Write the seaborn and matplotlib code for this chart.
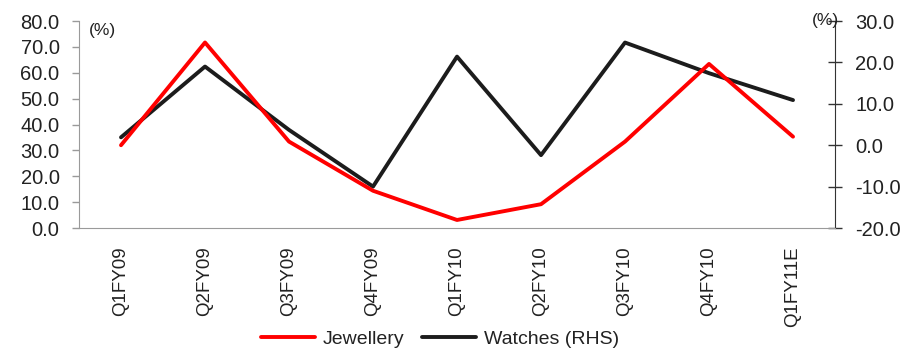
import numpy as np
import pandas as pd
import matplotlib
matplotlib.use("Agg")
import matplotlib.pyplot as plt
import seaborn as sns

quarters = ["Q1FY09", "Q2FY09", "Q3FY09", "Q4FY09", "Q1FY10",
            "Q2FY10", "Q3FY10", "Q4FY10", "Q1FY11E"]
jewellery = [32.0, 71.7, 33.4, 14.4, 3.1, 9.2, 33.4, 63.4, 35.3]
watches = [1.9, 19.0, 3.7, -10.0, 21.4, -2.4, 24.8, 17.4, 10.9]

left_ticks = [0, 10, 20, 30, 40, 50, 60, 70, 80]
right_ticks = [-20, -10, 0, 10, 20, 30]

sns.set_style("white")
plt.rcParams["font.family"] = ["Liberation Sans", "DejaVu Sans"]

df = pd.DataFrame({"pos": np.arange(len(quarters)),
                   "Jewellery": jewellery,
                   "Watches (RHS)": watches})

fig = plt.figure(figsize=(9.04, 3.49), dpi=100)
ax = fig.add_axes([0.0874, 0.3467, 0.8363, 0.5931])
ax2 = ax.twinx()

sns.lineplot(data=df, x="pos", y="Jewellery", ax=ax, color="#ff0000",
             linewidth=2.8, label="Jewellery", legend=False)
sns.lineplot(data=df, x="pos", y="Watches (RHS)", ax=ax2, color="#1c1c1c",
             linewidth=2.8, label="Watches (RHS)", legend=False)
ax2.set_zorder(ax.get_zorder() - 1)
ax.patch.set_visible(False)

text_col = "#222222"

# left axis
ax.set_ylim(0, 80)
ax.set_yticks(left_ticks)
ax.set_yticklabels([f"{v:.1f}" for v in left_ticks])
ax.set_xlim(-0.5, len(quarters) - 0.5)
ax.set_xticks(np.arange(-0.5, len(quarters), 1))
ax.set_xticklabels([])
ax.set_xticks(np.arange(len(quarters)), minor=True)
ax.set_xticklabels(quarters, minor=True, rotation=90)
ax.tick_params(axis="x", which="major", length=6, width=1, color="#9a9a9a",
               direction="out")
ax.tick_params(axis="x", which="minor", length=0, pad=13, labelsize=13.5,
               labelcolor=text_col)
ax.tick_params(axis="y", length=5, width=1, color="#9a9a9a", direction="out",
               pad=9, labelsize=14.5, labelcolor=text_col, left=True)
ax.set_xlabel("")
ax.set_ylabel("")

# right axis
ax2.set_ylim(-20, 30)
ax2.set_yticks(right_ticks)
ax2.set_yticklabels([f"{v:.1f}" for v in right_ticks])
ax2.tick_params(axis="y", length=10, width=1, color="#333333",
                direction="inout", pad=9.5, labelsize=14.5, labelcolor=text_col,
                right=True)
ax2.set_ylabel("")

for a in (ax, ax2):
    a.spines["top"].set_visible(False)
ax.spines["right"].set_visible(False)
ax.spines["left"].set_color("#9a9a9a")
ax.spines["bottom"].set_color("#9a9a9a")
ax2.spines["left"].set_visible(False)
ax2.spines["bottom"].set_visible(False)
ax2.spines["right"].set_color("#333333")

# unit labels
fig.text(89 / 904, 1 - 30 / 349, "(%)", fontsize=12.5, color=text_col,
         ha="left", va="center")
fig.text(825 / 904, 1 - 20 / 349, "(%)", fontsize=12.5, color=text_col,
         ha="center", va="center")

handles = ax.get_lines()[:1] + ax2.get_lines()[:1]
fig.legend(handles, ["Jewellery", "Watches (RHS)"], loc="center",
           bbox_to_anchor=(440 / 904, 1 - 339 / 349), ncol=2, frameon=False,
           fontsize=14, handlelength=2.8, handletextpad=0.4,
           columnspacing=0.9, labelcolor=text_col)

fig.savefig("out.png", dpi=100)
